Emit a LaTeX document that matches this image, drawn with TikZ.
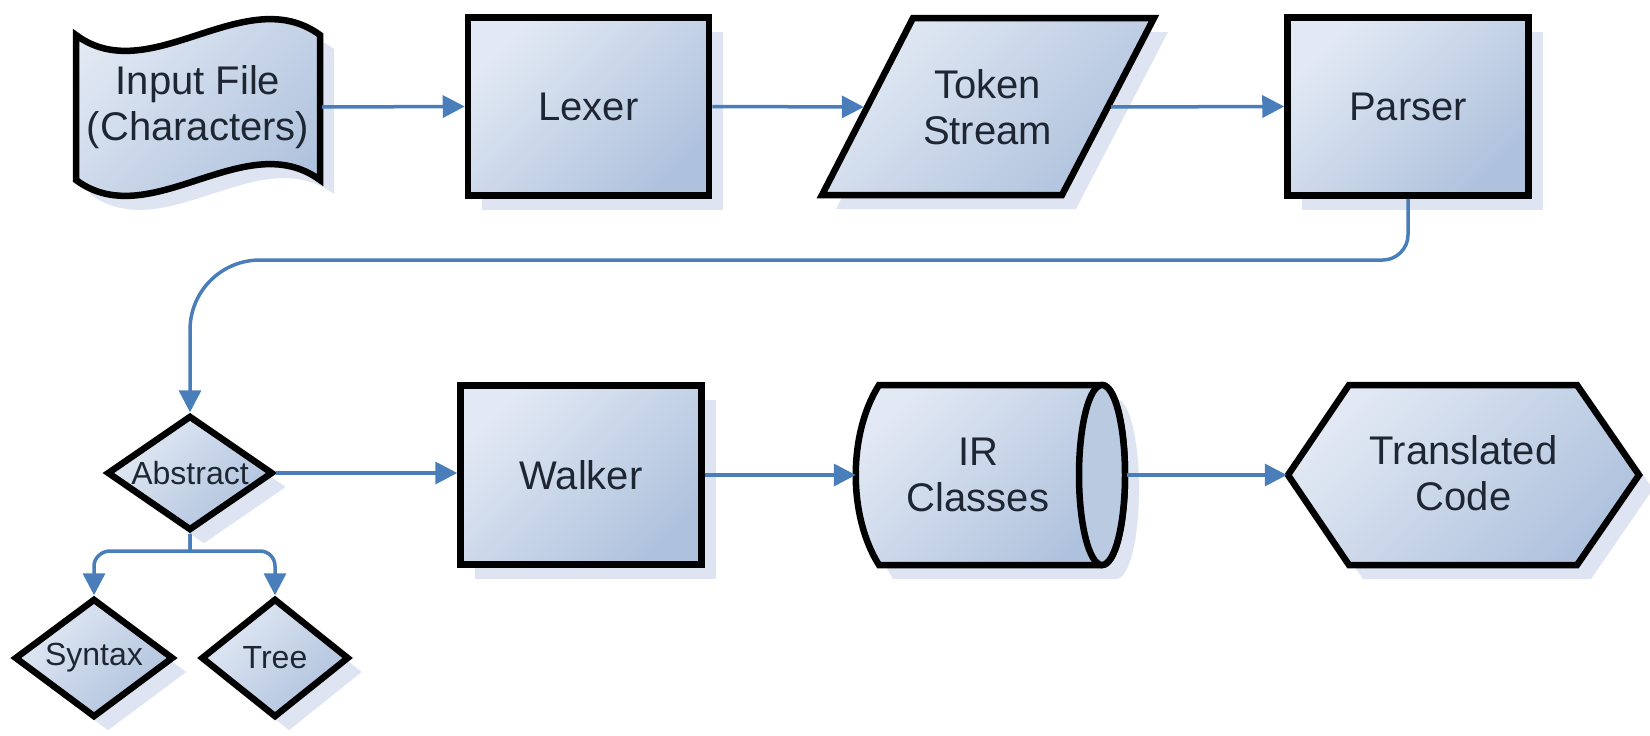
\documentclass[tikz,border=0pt]{standalone}
\usepackage{fontspec}
\setmainfont{Liberation Sans}
\usetikzlibrary{shapes.geometric,arrows.meta,shadows}
\definecolor{fillTop}{HTML}{E2E9F4}
\definecolor{fillBot}{HTML}{AFC2DD}
\definecolor{ellc}{HTML}{B9CAE1}
\definecolor{shadowc}{HTML}{DEE4F1}
\definecolor{connc}{HTML}{4A7EBB}
\definecolor{txtc}{HTML}{1E2633}
\tikzset{
  shapefill/.style={top color=fillTop, bottom color=fillBot, shading angle=45},
  shapeline/.style={draw=black, line width=6.5pt},
  shadebox/.style={shapefill, shapeline, drop shadow={shadow xshift=14pt, shadow yshift=-14pt, fill=shadowc, opacity=1}},
  bigtext/.style={font=\fontsize{40}{46}\selectfont, text=txtc, align=center},
  smalltext/.style={font=\fontsize{32}{38}\selectfont, text=txtc, align=center},
  procbox/.style={shadebox, rectangle, minimum width=241pt, minimum height=178pt, inner sep=0pt, bigtext},
  decision/.style={shadebox, diamond, aspect=1.4, inner sep=0pt, smalltext},
  textbox/.style={bigtext, inner sep=0pt, draw=none},
  conn/.style={draw=connc, line width=3.5pt, -{Triangle[length=22pt,width=22pt]}},
}
\begin{document}
\begin{tikzpicture}[x=1pt, y=-1pt]
\fill[white] (0,0) rectangle (1650,736);
\useasboundingbox (0,0) rectangle (1650,736);

% ---- shapes drawn directly ----
% punched tape (Input File)
\path[shadebox] (76,35) .. controls (150,90) and (245,-20) .. (320,35)
  -- (320,180) .. controls (245,125) and (150,235) .. (76,180) -- cycle;
% parallelogram (Token Stream)
\path[shadebox] (913,18) -- (1154,18) -- (1062,195) -- (822,195) -- cycle;
% stored data (IR Classes)
\path[shadebox] (879,385) -- (1102,385)
  .. controls (1115.3,385) and (1125,425) .. (1125,475)
  .. controls (1125,525) and (1115.3,565) .. (1102,565)
  -- (879,565) .. controls (848,516) and (848,434) .. cycle;
\draw[shapeline, fill=ellc] (1102,475) ellipse [x radius=23, y radius=90];
% hexagon (Translated Code)
\path[shadebox] (1288,475) -- (1349,385) -- (1577,385) -- (1639,475)
  -- (1577,565) -- (1349,565) -- cycle;

% ---- nodes ----
\node[textbox, minimum width=248pt] (input) at (198,107) {Input File\\(Characters)};
\node[procbox] (lexer) at (588.5,106.5) {Lexer};
\node[textbox, minimum width=247pt] (token) at (987.5,107) {Token\\Stream};
\node[procbox] (parser) at (1408,106.5) {Parser};

\node[decision, minimum width=166pt, minimum height=115pt] (abstract) at (190,473) {Abstract};
\node[decision, minimum width=159pt, minimum height=119pt] (syntax) at (94,658) {Syntax};
\node[decision, minimum width=148pt, minimum height=119pt] (tree) at (275,658) {Tree};

\node[procbox, minimum height=179pt] (walker) at (581,475) {Walker};
\node[textbox, minimum width=244pt] (ir) at (978,475) {IR\\Classes};
\coordinate (irout) at (1127,475);
\node[textbox, minimum width=353pt] (hex) at (1463.5,473) {Translated\\Code};

% ---- connectors ----
\draw[conn] (input.east) -- (lexer.west);
\draw[conn] (lexer.east) -- (token.west);
\draw[conn] (token.east) -- (parser.west);
\draw[conn] (parser.south) -- (1408,235) .. controls (1408,248.8) and (1396.2,260) .. (1383,260)
  -- (260,260) .. controls (221.3,260) and (190,291.3) .. (190,330) -- (abstract.north);
\draw[conn] (abstract.east) -- (abstract.east -| walker.west);
\draw[conn] (walker.east) -- (ir.west);
\draw[conn] (irout) -- (irout -| hex.west);
\draw[conn] (abstract.south) -- (190,551) -- (110,551) .. controls (101.7,551) and (94,557.7) .. (94,566) -- (syntax.north);
\draw[conn] (abstract.south) -- (190,551) -- (260,551) .. controls (268.3,551) and (275,557.7) .. (275,566) -- (tree.north);
\end{tikzpicture}
\end{document}
